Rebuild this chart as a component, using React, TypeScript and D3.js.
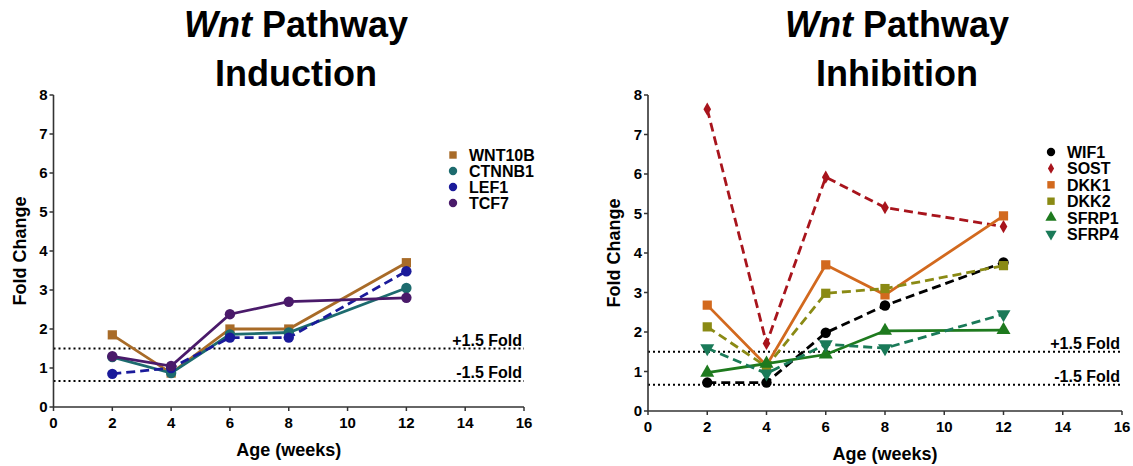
import React, { useEffect } from "react";
import * as d3 from "d3";

// x values (weeks)
const weeks = [2, 4, 6, 8, 12];
const xTicks = [0, 2, 4, 6, 8, 10, 12, 14, 16];
const yTicks = [0, 1, 2, 3, 4, 5, 6, 7, 8];

// Induction panel
const wnt10b = [1.85, 0.87, 2.0, 2.0, 3.7];
const ctnnb1 = [1.28, 0.87, 1.86, 1.91, 3.05];
const lef1 = [0.85, 1.0, 1.78, 1.78, 3.48];
const tcf7 = [1.3, 1.05, 2.38, 2.7, 2.8];

// Inhibition panel
const wif1 = [0.72, 0.72, 1.98, 2.67, 3.76];
const sost = [7.64, 1.71, 5.92, 5.15, 4.67];
const dkk1 = [2.68, 1.15, 3.7, 2.94, 4.94];
const dkk2 = [2.13, 1.12, 2.98, 3.1, 3.68];
const sfrp1 = [0.97, 1.2, 1.43, 2.03, 2.05];
const sfrp4 = [1.59, 0.95, 1.69, 1.59, 2.45];

const foldLines = [1.5, 1 / 1.5];
const foldLabels = ["+1.5 Fold", "-1.5 Fold"];

type Series = {
  name: string;
  values: number[];
  color: string;
  shape: string;
  dashed: boolean;
};

const induction: Series[] = [
  { name: "WNT10B", values: wnt10b, color: "#a86b28", shape: "square", dashed: false },
  { name: "CTNNB1", values: ctnnb1, color: "#1d6b6e", shape: "circle", dashed: false },
  { name: "LEF1", values: lef1, color: "#1a1a9a", shape: "circle", dashed: true },
  { name: "TCF7", values: tcf7, color: "#4a1a6a", shape: "circle", dashed: false },
];

const inhibition: Series[] = [
  { name: "WIF1", values: wif1, color: "#000000", shape: "circle", dashed: true },
  { name: "SOST", values: sost, color: "#a8141c", shape: "diamond", dashed: true },
  { name: "DKK1", values: dkk1, color: "#d2691e", shape: "square", dashed: false },
  { name: "DKK2", values: dkk2, color: "#8a8a14", shape: "square", dashed: true },
  { name: "SFRP1", values: sfrp1, color: "#1e7a1e", shape: "triangle", dashed: false },
  { name: "SFRP4", values: sfrp4, color: "#1a7a58", shape: "triangleDown", dashed: true },
];

const FONT = "'Liberation Sans', Arial, sans-serif";

function symbolPath(shape: string, size: number) {
  const t =
    shape === "square" ? d3.symbolSquare :
    shape === "diamond" ? d3.symbolDiamond :
    shape === "triangle" || shape === "triangleDown" ? d3.symbolTriangle :
    d3.symbolCircle;
  return d3.symbol().type(t).size(size)() as string;
}

function Marker({ s, x, y, size }: { s: Series; x: number; y: number; size: number }) {
  const rot = s.shape === "triangleDown" ? " rotate(180)" : "";
  return (
    <path
      d={symbolPath(s.shape, s.shape === "diamond" ? size * 0.6 : size)}
      transform={`translate(${x},${y})${rot}`}
      fill={s.color}
    />
  );
}

function Panel(props: {
  title: string;
  series: Series[];
  x0: number;
  x1: number;
  y0: number;
  y1: number;
  titleX: number;
  legX: number;
  legY: number;
  legStep: number;
}) {
  const { title, series, x0, x1, y0, y1, titleX, legX, legY, legStep } = props;
  const x = d3.scaleLinear().domain([0, 16]).range([x0, x1]);
  const y = d3.scaleLinear().domain([0, 8]).range([y0, y1]);
  const line = d3
    .line<number>()
    .x((_, i) => x(weeks[i]))
    .y((d) => y(d));
  const axisColor = "#333";

  return (
    <g fontFamily={FONT} fontWeight="bold">
      <text x={titleX} y={37} textAnchor="middle" fontSize={36}>
        <tspan fontStyle="italic">Wnt</tspan> Pathway
      </text>
      <text x={titleX} y={86} textAnchor="middle" fontSize={36}>
        {title}
      </text>

      {/* fold thresholds */}
      {foldLines.map((v, i) => (
        <g key={i}>
          <line
            x1={x0}
            x2={x1}
            y1={y(v)}
            y2={y(v)}
            stroke="#000"
            strokeWidth={2}
            strokeDasharray="2,3"
          />
          <text x={x1 - 2} y={y(v) - 3} textAnchor="end" fontSize={16}>
            {foldLabels[i]}
          </text>
        </g>
      ))}

      {/* series */}
      {series.map((s) => (
        <g key={s.name}>
          <path
            d={line(s.values) as string}
            fill="none"
            stroke={s.color}
            strokeWidth={2.8}
            strokeDasharray={s.dashed ? "9,5" : undefined}
          />
          {s.values.map((v, i) => (
            <Marker key={i} s={s} x={x(weeks[i])} y={y(v)} size={85} />
          ))}
        </g>
      ))}

      {/* axes */}
      <line x1={x0} x2={x0} y1={y0} y2={y1} stroke={axisColor} strokeWidth={1.6} />
      <line x1={x0} x2={x1} y1={y0} y2={y0} stroke={axisColor} strokeWidth={1.6} />
      {yTicks.map((t) => (
        <g key={"y" + t}>
          <line x1={x0 - 4} x2={x0} y1={y(t)} y2={y(t)} stroke={axisColor} strokeWidth={1.5} />
          <text x={x0 - 6} y={y(t) + 5} textAnchor="end" fontSize={15}>
            {t}
          </text>
        </g>
      ))}
      {xTicks.map((t) => (
        <g key={"x" + t}>
          <line x1={x(t)} x2={x(t)} y1={y0} y2={y0 + 4} stroke={axisColor} strokeWidth={1.5} />
          <text x={x(t)} y={y0 + 21} textAnchor="middle" fontSize={15}>
            {t}
          </text>
        </g>
      ))}
      <text x={(x0 + x1) / 2} y={y0 + 49} textAnchor="middle" fontSize={18}>
        Age (weeks)
      </text>
      <text
        transform={`translate(${x0 - 28},${(y0 + y1) / 2}) rotate(-90)`}
        textAnchor="middle"
        fontSize={18}
      >
        Fold Change
      </text>

      {/* legend */}
      {series.map((s, i) => (
        <g key={"leg" + s.name}>
          <Marker s={s} x={legX} y={legY + i * legStep} size={55} />
          <text x={legX + 16} y={legY + i * legStep + 6} fontSize={16}>
            {s.name}
          </text>
        </g>
      ))}
    </g>
  );
}

export default function App() {
  useEffect(() => {
    document.body.style.margin = "0";
  }, []);

  return (
    <svg width={1133} height={466} style={{ display: "block", background: "#fff" }}>
      <Panel
        title="Induction"
        series={induction}
        x0={53.5}
        x1={524}
        y0={407}
        y1={95}
        titleX={296}
        legX={453}
        legY={155}
        legStep={16}
      />
      <Panel
        title="Inhibition"
        series={inhibition}
        x0={648}
        x1={1122}
        y0={411}
        y1={95}
        titleX={897}
        legX={1051}
        legY={152}
        legStep={16.4}
      />
    </svg>
  );
}
